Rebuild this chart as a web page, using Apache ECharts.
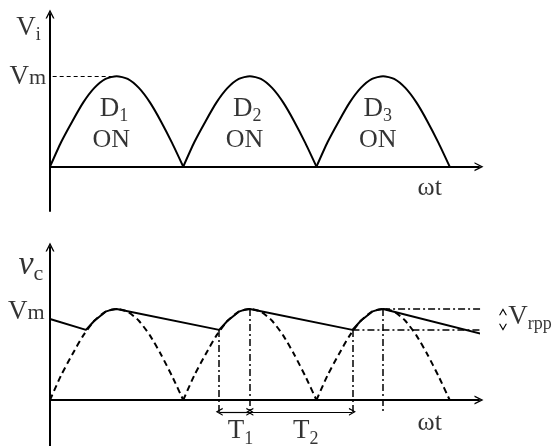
<!DOCTYPE html>
<html>
<head>
<meta charset="utf-8">
<script src="https://cdn.jsdelivr.net/npm/echarts@6/dist/echarts.min.js"></script>
<style>
html, body { margin: 0; padding: 0; background: #fff; }
#main { width: 558px; height: 446px; }
</style>
</head>
<body>
<div id="main"></div>
<script>
// one half period of the rectified sine (x in half periods, y in Vm)
var humpT = [0, 0.083, 0.167, 0.25, 0.333, 0.417, 0.5, 0.583, 0.667, 0.75, 0.833, 0.917, 1];
var humpV = [0, 0.27, 0.5, 0.71, 0.87, 0.97, 1, 0.97, 0.87, 0.71, 0.5, 0.26, 0];
var humpStarts = [0, 1, 2];

// capacitor voltage: charge arcs and discharge lines
var rippleX = [0, 0.27, 0.333, 0.375, 0.417, 0.458, 0.5, 1.27, 1.333, 1.375, 1.417, 1.458, 1.5, 2.27, 2.333, 2.375, 2.417, 2.458, 2.5, 3.24];
var rippleY = [0.89, 0.77, 0.87, 0.92, 0.97, 0.99, 1, 0.77, 0.87, 0.92, 0.97, 0.99, 1, 0.77, 0.87, 0.92, 0.97, 0.99, 1, 0.725];

// marks for T1, T2 and Vrpp
var tEdges = [1.27, 1.5, 2.27];
var peakX = [1.5, 2.5];
var vPeak = 1;
var vLow = 0.77;
var guideEnd = 3.375;
var vrppX = 3.4;

var serif = 'Liberation Serif, serif';
var arrowPath = 'path://M0,10 L5,0 L10,10 L8.4,10 L5,3.2 L1.6,10 Z';

var rich = {
  V: { fontFamily: serif, fontSize: 27, color: '#000', verticalAlign: 'bottom' },
  Vs: { fontFamily: serif, fontSize: 27, color: '#000', verticalAlign: 'bottom', padding: [0, 0, 3, 0] },
  m: { fontFamily: serif, fontSize: 22, color: '#000', verticalAlign: 'bottom', padding: [0, 0, 1, 0] },
  s: { fontFamily: serif, fontSize: 18, color: '#000', verticalAlign: 'bottom' },
  v: { fontFamily: serif, fontSize: 34, fontStyle: 'italic', color: '#000', verticalAlign: 'bottom', padding: [0, 0, 3, 0] },
  c: { fontFamily: serif, fontSize: 22, color: '#000', verticalAlign: 'bottom' },
  on: { fontFamily: serif, fontSize: 26, color: '#000' },
  wt: { fontFamily: serif, fontSize: 26, color: '#000' }
};

function humpData(s) {
  var d = [];
  for (var i = 0; i < humpT.length; i++) d.push([s + humpT[i], humpV[i]]);
  return d;
}
var rippleData = [];
for (var i = 0; i < rippleX.length; i++) rippleData.push([rippleX[i], rippleY[i]]);

function lab(x, y, text, pos) {
  return { value: [x, y], name: text, label: { position: pos || 'inside' } };
}

var xAxisBase = {
  type: 'value', min: 0, max: 3.22,
  axisLine: { onZero: true, lineStyle: { color: '#000', width: 2 }, symbol: ['none', arrowPath], symbolSize: [10, 9] },
  axisTick: { show: false }, axisLabel: { show: false }, splitLine: { show: false }
};
var yAxisBase = {
  type: 'value',
  axisLine: { show: true, lineStyle: { color: '#000', width: 2 }, symbol: ['none', arrowPath], symbolSize: [10, 9] },
  axisTick: { show: false }, axisLabel: { show: false }, splitLine: { show: false }
};

var series = [];
humpStarts.forEach(function (s) {
  series.push({
    type: 'line', xAxisIndex: 0, yAxisIndex: 0, data: humpData(s), smooth: 0.2,
    symbol: 'none', lineStyle: { color: '#000', width: 2 }, silent: true
  });
  series.push({
    type: 'line', xAxisIndex: 1, yAxisIndex: 1, data: humpData(s), smooth: 0.2,
    symbol: 'none', lineStyle: { color: '#000', width: 2, type: [6, 4] }, silent: true
  });
});

var dashDot = { color: '#000', width: 1.5, type: [7, 3, 2, 3] };
var thin = { color: '#000', width: 1.2, type: 'solid' };
function seg(x1, y1, x2, y2, style, sym) {
  return [
    { coord: [x1, y1], symbol: sym || 'none', lineStyle: style },
    { coord: [x2, y2], symbol: sym || 'none' }
  ];
}

series.push({
  type: 'line', xAxisIndex: 1, yAxisIndex: 1, data: rippleData, clip: false,
  symbol: 'none', lineStyle: { color: '#000', width: 2 }, silent: true, z: 5,
  markLine: {
    silent: true, label: { show: false }, symbolSize: [8, 7],
    data: [
      seg(tEdges[0], vLow, tEdges[0], -0.15, dashDot),
      seg(peakX[0], vPeak, peakX[0], -0.15, dashDot),
      seg(tEdges[2], vLow, tEdges[2], -0.15, dashDot),
      seg(peakX[1], vPeak, peakX[1], -0.15, dashDot),
      seg(tEdges[0], -0.13, tEdges[1], -0.13, thin, arrowPath),
      seg(tEdges[1], -0.13, tEdges[2], -0.13, thin, arrowPath)
    ]
  }
});

// guides for Vrpp run past the axis end, so draw them as unclipped lines
series.push({
  type: 'line', xAxisIndex: 1, yAxisIndex: 1, clip: false, silent: true, symbol: 'none',
  lineStyle: dashDot, data: [[peakX[1], vPeak], [guideEnd, vPeak]]
});
series.push({
  type: 'line', xAxisIndex: 1, yAxisIndex: 1, clip: false, silent: true, symbol: 'none',
  lineStyle: dashDot, data: [[tEdges[2], vLow], [guideEnd, vLow]]
});
series.push({
  type: 'line', xAxisIndex: 1, yAxisIndex: 1, clip: false, silent: true,
  symbol: arrowPath, symbolSize: [8, 7], itemStyle: { color: '#000' },
  lineStyle: thin,
  data: [
    { value: [vrppX, vLow + 0.03], symbolRotate: 180 },
    { value: [vrppX, vPeak - 0.03], symbolRotate: 0 }
  ]
});

// Vm guide on the top plot
series.push({
  type: 'line', xAxisIndex: 0, yAxisIndex: 0, data: [], silent: true,
  markLine: {
    silent: true, symbol: 'none', label: { show: false },
    lineStyle: { color: '#000', width: 1, type: [4, 3] },
    data: [[{ coord: [0.02, 1] }, { coord: [0.5, 1] }]]
  }
});

var labelStyle = { show: true, formatter: '{b}', rich: rich, distance: 0 };
series.push({
  type: 'scatter', xAxisIndex: 0, yAxisIndex: 0, symbolSize: 0, clip: false, silent: true,
  label: labelStyle,
  data: [
    lab(-0.07, 1.52, '{Vs|V}{s|i}', 'left'),
    lab(-0.03, 0.99, '{V|V}{m|m}', 'left'),
    lab(0.48, 0.62, '{Vs|D}{s|1}'),
    lab(0.46, 0.29, '{on|ON}'),
    lab(1.48, 0.62, '{Vs|D}{s|2}'),
    lab(1.46, 0.29, '{on|ON}'),
    lab(2.46, 0.62, '{Vs|D}{s|3}'),
    lab(2.46, 0.29, '{on|ON}'),
    lab(2.85, -0.24, '{wt|ωt}')
  ]
});
series.push({
  type: 'scatter', xAxisIndex: 1, yAxisIndex: 1, symbolSize: 0, clip: false, silent: true,
  label: labelStyle,
  data: [
    lab(-0.05, 1.46, '{v|v}{c|c}', 'left'),
    lab(-0.04, 0.97, '{V|V}{m|m}', 'left'),
    lab(1.43, -0.36, '{Vs|T}{s|1}'),
    lab(1.92, -0.36, '{Vs|T}{s|2}'),
    lab(2.85, -0.25, '{wt|ωt}'),
    lab(3.44, 0.9, '{Vs|V}{s|rpp}', 'right')
  ]
});

var myChart = echarts.init(document.getElementById('main'));
myChart.setOption({
  animation: false,
  backgroundColor: '#fff',
  grid: [
    { left: 50, right: 79, top: 14, height: 197 },
    { left: 50, right: 79, top: 247, height: 199 }
  ],
  xAxis: [
    Object.assign({ gridIndex: 0 }, xAxisBase),
    Object.assign({ gridIndex: 1 }, xAxisBase)
  ],
  yAxis: [
    Object.assign({ gridIndex: 0, min: -0.49, max: 1.687 }, yAxisBase),
    Object.assign({ gridIndex: 1, min: -0.505, max: 1.68 }, yAxisBase)
  ],
  series: series
});
</script>
</body>
</html>
